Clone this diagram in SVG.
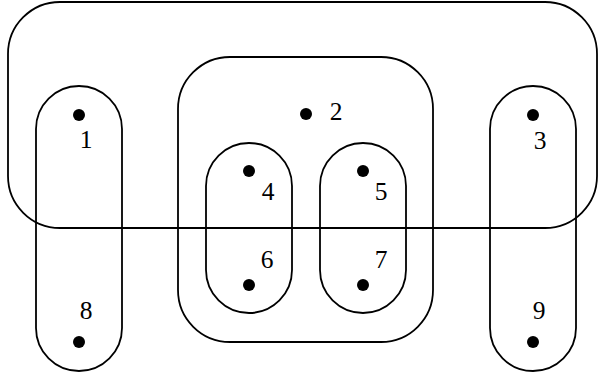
<svg xmlns="http://www.w3.org/2000/svg" width="599" height="376" viewBox="0 0 599 376">
<style>
.s{fill:none;stroke:#000;stroke-width:1.8}
.d{fill:#000}
.t{font-family:"Liberation Serif","Times New Roman",serif;font-size:25.5px;text-anchor:middle;fill:#000}
</style>
<rect width="599" height="376" fill="#fff"/>
<g id="sets">
<rect id="setA" class="s" x="8" y="2" width="589" height="226" rx="52" ry="52"/>
<rect id="setL" class="s" x="36" y="86" width="86" height="285" rx="43" ry="43"/>
<rect id="setR" class="s" x="490" y="86" width="86" height="285" rx="43" ry="43"/>
<rect id="setM" class="s" x="178" y="57" width="255" height="285" rx="52" ry="52"/>
<rect id="setM1" class="s" x="206" y="143" width="86" height="170" rx="43" ry="43"/>
<rect id="setM2" class="s" x="320" y="143" width="86" height="170" rx="43" ry="43"/>
</g>
<g id="n1"><circle class="d" cx="79" cy="115" r="6"/><text class="t" x="86" y="148">1</text></g>
<g id="n2"><circle class="d" cx="306" cy="114" r="6"/><text class="t" x="336" y="120">2</text></g>
<g id="n3"><circle class="d" cx="533" cy="115" r="6"/><text class="t" x="540" y="149">3</text></g>
<g id="n4"><circle class="d" cx="249" cy="171" r="6"/><text class="t" x="268" y="200">4</text></g>
<g id="n5"><circle class="d" cx="363" cy="171" r="6"/><text class="t" x="381" y="200">5</text></g>
<g id="n6"><circle class="d" cx="249" cy="285" r="6"/><text class="t" x="267" y="268">6</text></g>
<g id="n7"><circle class="d" cx="363" cy="285" r="6"/><text class="t" x="381" y="268">7</text></g>
<g id="n8"><circle class="d" cx="79" cy="342" r="6"/><text class="t" x="86" y="319">8</text></g>
<g id="n9"><circle class="d" cx="533" cy="342" r="6"/><text class="t" x="539" y="319">9</text></g>
<g id="connectors"></g>
</svg>
